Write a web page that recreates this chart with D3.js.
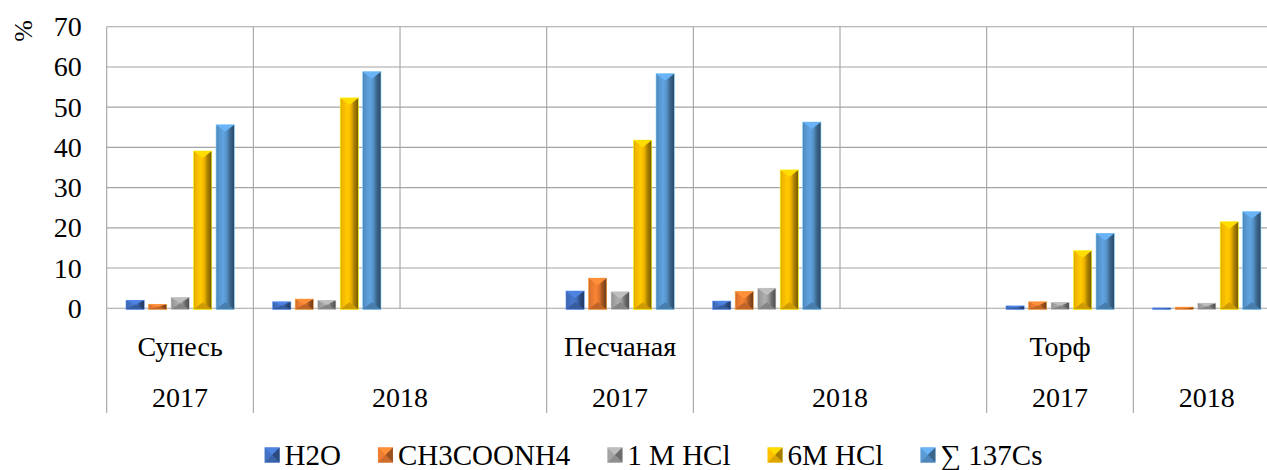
<!DOCTYPE html>
<html>
<head>
<meta charset="utf-8">
<script src="https://cdn.jsdelivr.net/npm/d3@7"></script>
</head>
<body style="margin:0; background:#fff">
<svg id="chart" width="1267" height="470" font-family="Liberation Serif" style="font-family: 'Liberation Serif'"></svg>
<script>
'use strict'

// categories: one slot per Excel row, empty rows leave a gap
var soilLabels = ["Супесь", "", "", "Песчаная", "", "", "Торф", ""];
var yearLabels = ["2017", "2018", "", "2017", "2018", "", "2017", "2018"];
// which slots carry bars (index into the value arrays)
var slotData = [0, 1, -1, 2, 3, -1, 4, 5];

var seriesNames = ["H2O", "CH3COONH4", "1 M HCl", "6M HCl", "∑ 137Cs"];

var h2oValues = [2.0, 1.6, 4.3, 1.8, 0.6, 0.1];
var acetateValues = [1.0, 2.3, 7.5, 4.2, 1.6, 0.3];
var hcl1Values = [2.7, 2.0, 4.1, 5.0, 1.5, 1.3];
var hcl6Values = [39.1, 52.3, 41.8, 34.4, 14.3, 21.5];
var cs137Values = [45.6, 58.8, 58.3, 46.3, 18.6, 24.0];

var yTicks = [0, 10, 20, 30, 40, 50, 60, 70];

var Main = function() {

	var WIDTH = 1267,
		HEIGHT = 470;

	var plot = {
		left: 106.7,
		right: 1280,
		top: 26.7,
		bottom: 308.3,
		labelBottom: 413
	}

	var FONT = "Liberation Serif";
	var seriesColors = ["#4472C4", "#ED7D31", "#A5A5A5", "#FFC000", "#5B9BD5"];
	var gridColor = "#a3a3a3";
	var fontSize = 28,
		legendFontSize = 29;

	var allValues = [h2oValues, acetateValues, hcl1Values, hcl6Values, cs137Values];

	function label(sel, size) {
		return sel
			.attr("font-family", FONT)
			.attr("font-size", size)
			.style("font-family", "'" + FONT + "'")
			.style("font-size", size + "px")
			.attr("fill", "#000")
	}

	this.initialize = function() {

		var svg = d3.select("#chart")

		var defs = svg.append("defs")

		seriesColors.forEach(function(c, i) {
			var base = d3.rgb(c);
			var grad = defs.append("linearGradient")
				.attr("id", "grad" + i)
				.attr("x1", 0).attr("x2", 1).attr("y1", 0).attr("y2", 0)
			var stops = [
				[0, base.darker(0.5)],
				[0.12, base.darker(0.15)],
				[0.4, base.brighter(0.15)],
				[0.58, base.darker(0.15)],
				[0.76, base.darker(1.1)],
				[1, base.darker(2.2)]
			];
			stops.forEach(function(s) {
				grad.append("stop")
					.attr("offset", s[0])
					.attr("stop-color", s[1])
			})
		})

		var x = d3.scaleBand()
			.domain(d3.range(soilLabels.length))
			.range([plot.left, plot.right])
			.paddingInner(0)
			.paddingOuter(0)

		var xInner = d3.scaleBand()
			.domain(d3.range(seriesNames.length))
			.range([19.3, 127.6])
			.paddingInner(0.19)
			.paddingOuter(0)

		var y = d3.scaleLinear()
			.domain([0, 70])
			.range([plot.bottom, plot.top])

		var grid = svg.append("g")
			.attr("stroke", gridColor)
			.attr("stroke-width", 1.1)

		// horizontal gridlines
		grid.selectAll(".hgrid")
			.data(yTicks)
			.enter()
			.append("line")
			.attr("x1", plot.left)
			.attr("x2", plot.right)
			.attr("y1", function(d) { return y(d) })
			.attr("y2", function(d) { return y(d) })

		// vertical gridlines, one at every slot edge
		var edges = d3.range(soilLabels.length + 1).map(function(i) {
			return i < soilLabels.length ? x(i) : x.range()[1];
		})
		grid.selectAll(".vgrid")
			.data(edges)
			.enter()
			.append("line")
			.attr("x1", function(d) { return d })
			.attr("x2", function(d) { return d })
			.attr("y1", plot.top)
			.attr("y2", plot.bottom)

		// label area dividers, only where a new year group begins
		var dividerSlots = [];
		yearLabels.forEach(function(yl, i) {
			if (yl !== "") dividerSlots.push(i);
		})
		dividerSlots.push(soilLabels.length);
		grid.selectAll(".ldiv")
			.data(dividerSlots)
			.enter()
			.append("line")
			.attr("x1", function(d) { return edges[d] })
			.attr("x2", function(d) { return edges[d] })
			.attr("y1", plot.bottom)
			.attr("y2", plot.labelBottom)

		// y axis labels
		var yAxis = d3.axisLeft(y)
			.tickValues(yTicks)
			.tickSize(0)
			.tickPadding(25)

		var yAxisG = svg.append("g")
			.attr("transform", "translate(" + plot.left + ",0)")
			.call(yAxis)
			.attr("font-family", FONT)
			.attr("font-size", fontSize)
		yAxisG.select(".domain").remove()
		label(yAxisG.selectAll("text"), fontSize)

		label(svg.append("text"), 26)
			.attr("transform", "translate(23,31) rotate(-90)")
			.attr("text-anchor", "middle")
			.attr("dominant-baseline", "central")
			.text("%")

		// bars
		var barsG = svg.append("g")
		slotData.forEach(function(di, slot) {
			if (di < 0) return;
			seriesNames.forEach(function(name, si) {
				var v = allValues[si][di];
				var bx = x(slot) + xInner(si);
				drawBar(barsG, bx, y(v), xInner.bandwidth(), y(0) + 1 - y(v), si);
			})
		})

		// category labels, row 1 (soil)
		label(svg.append("g")
			.selectAll("text")
			.data(soilLabels)
			.enter()
			.append("text"), fontSize)
			.attr("x", function(d, i) { return x(i) + x.bandwidth() / 2 })
			.attr("y", 346)
			.attr("text-anchor", "middle")
			.attr("dominant-baseline", "central")
			.text(function(d) { return d })

		// row 2 (year), a label spans until the next non-empty one
		var yearGroups = [];
		dividerSlots.forEach(function(s, k) {
			if (k < dividerSlots.length - 1) {
				yearGroups.push({ label: yearLabels[s], from: edges[s], to: edges[dividerSlots[k + 1]] });
			}
		})
		label(svg.append("g")
			.selectAll("text")
			.data(yearGroups)
			.enter()
			.append("text"), fontSize)
			.attr("x", function(d) { return (d.from + d.to) / 2 })
			.attr("y", 397)
			.attr("text-anchor", "middle")
			.attr("dominant-baseline", "central")
			.text(function(d) { return d.label })

		drawLegend(svg);
	}

	function drawBar(g, bx, top, w, h, si) {
		var base = d3.rgb(seriesColors[si]);
		var bottom = top + h;
		var b = Math.min(7, h / 2, w / 2);

		g.append("rect")
			.attr("x", bx)
			.attr("y", top)
			.attr("width", w)
			.attr("height", h)
			.attr("fill", "url(#grad" + si + ")")
			.attr("stroke", base.brighter(0.8))
			.attr("stroke-width", 0.6)

		// top bevel
		g.append("path")
			.attr("d", "M" + bx + "," + top + "L" + (bx + w) + "," + top + "L" + (bx + w / 2) + "," + (top + b) + "Z")
			.attr("fill", base.brighter(0.4))

		// bottom bevel
		g.append("path")
			.attr("d", "M" + bx + "," + bottom + "L" + (bx + w) + "," + bottom + "L" + (bx + w / 2) + "," + (bottom - b) + "Z")
			.attr("fill", base.darker(0.6))
	}

	function drawLegend(svg) {
		var legend = svg.append("g")
		var cy = 455,
			sq = 15,
			gap = 37;

		var items = legend.selectAll("g")
			.data(seriesNames)
			.enter()
			.append("g")

		label(items.append("text"), legendFontSize)
			.attr("x", sq + 5)
			.attr("y", cy)
			.attr("dominant-baseline", "central")
			.text(function(d) { return d })

		var widths = [];
		items.select("text").each(function() { widths.push(this.getComputedTextLength()) })
		var total = d3.sum(widths) + widths.length * (sq + 5) + (widths.length - 1) * gap;
		var cx = 264 + (1043 - 264) / 2;
		var pos = cx - total / 2;

		items.each(function(d, i) {
			var item = d3.select(this)
			item.attr("transform", "translate(" + pos + ",0)")
			pos += sq + 5 + widths[i] + gap;

			var base = d3.rgb(seriesColors[i]);
			var t = cy - sq / 2;
			var m = sq / 2;
			item.append("rect")
				.attr("x", 0).attr("y", t)
				.attr("width", sq).attr("height", sq)
				.attr("fill", base)
			item.append("path")
				.attr("d", "M0," + t + "L" + sq + "," + t + "L" + m + "," + (t + m) + "Z")
				.attr("fill", base.brighter(0.4))
			item.append("path")
				.attr("d", "M" + sq + "," + t + "L" + sq + "," + (t + sq) + "L" + m + "," + (t + m) + "Z")
				.attr("fill", base.darker(1.2))
			item.append("path")
				.attr("d", "M0," + (t + sq) + "L" + sq + "," + (t + sq) + "L" + m + "," + (t + m) + "Z")
				.attr("fill", base.darker(0.4))
		})
	}
}

new Main().initialize();
</script>
</body>
</html>
